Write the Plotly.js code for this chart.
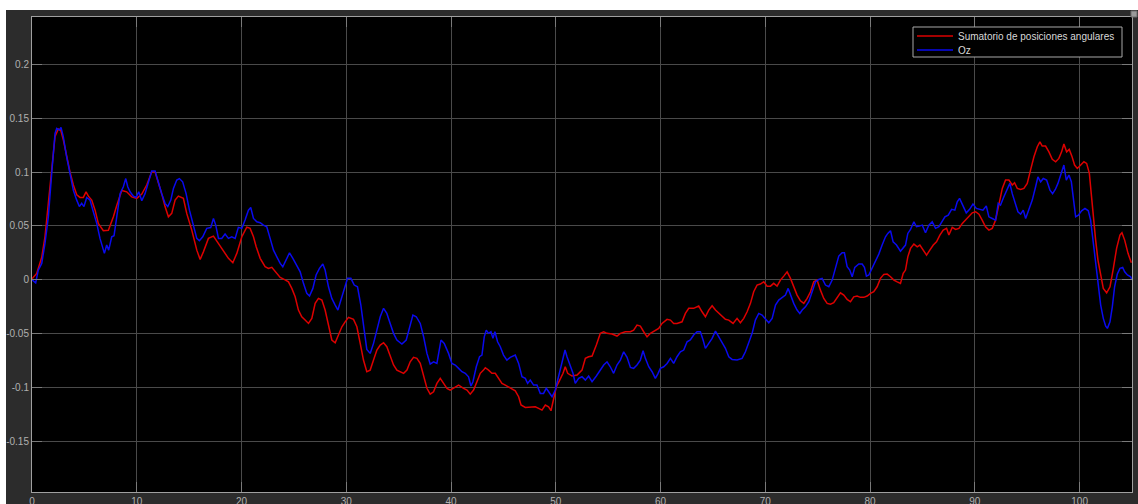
<!DOCTYPE html>
<html>
<head>
<meta charset="utf-8">
<script src="https://cdn.plot.ly/plotly-3.0.1.min.js"></script>
<style>
  html, body { margin: 0; padding: 0; background: #ffffff; width: 1138px; height: 504px; overflow: hidden; }
  #scope { position: absolute; left: 6px; top: 10px; width: 1132px; height: 494px; }
</style>
</head>
<body>
<div id="scope"></div>
<script>
// Series names shown in the legend
const seriesNames = ['Sumatorio de posiciones angulares', 'Oz'];

// Sum of angular positions (red)
const tSum = [0,0.45,0.93,1.24,1.56,1.88,2.2,2.51,2.74,2.99,3.31,3.63,3.95,4.27,4.58,4.9,5.16,5.38,5.7,6.02,6.33,6.81,7.29,7.77,8.09,8.57,9.04,9.52,10.0,10.48,10.95,11.43,11.75,12.06,12.38,12.7,13.02,13.34,13.66,13.97,14.45,14.77,15.25,15.73,16.05,16.36,16.84,17.32,17.8,18.27,18.75,19.17,19.55,20.03,20.5,20.82,21.14,21.4,21.78,22.25,22.57,22.89,23.21,23.69,24.16,24.48,24.8,25.12,25.43,25.75,26.07,26.39,26.71,27.03,27.34,27.67,27.98,28.3,28.62,28.94,29.26,29.58,29.89,30.21,30.69,31.01,31.33,31.64,31.96,32.28,32.6,32.92,33.24,33.56,33.87,34.19,34.51,34.83,35.15,35.47,35.79,36.1,36.42,36.74,37.06,37.38,37.7,38.01,38.33,38.65,38.97,39.29,39.61,39.92,40.4,40.72,41.2,41.52,41.83,42.15,42.47,42.79,43.1,43.27,43.58,43.9,44.22,44.54,44.86,45.18,45.49,45.81,46.13,46.45,46.68,47.09,47.56,48.04,48.36,48.68,49.0,49.31,49.54,49.79,50.05,50.37,50.69,50.9,51.13,51.55,52.03,52.5,52.82,53.13,53.46,53.87,54.25,54.57,54.89,55.37,55.84,56.16,56.64,57.12,57.43,57.75,58.07,58.39,58.71,59.03,59.5,59.82,60.14,60.62,60.94,61.25,61.57,62.05,62.37,62.69,63.16,63.64,63.96,64.28,64.6,64.92,65.24,65.55,65.87,66.19,66.51,66.92,67.3,67.62,67.94,68.26,68.58,68.89,69.21,69.53,69.85,70.17,70.49,70.8,71.12,71.44,71.76,72.08,72.4,72.71,73.03,73.35,73.67,73.99,74.31,74.62,74.94,75.26,75.58,75.9,76.22,76.53,76.85,77.17,77.49,77.81,78.13,78.44,78.76,79.08,79.4,79.72,80.04,80.35,80.67,80.99,81.31,81.63,81.95,82.27,82.59,82.9,83.16,83.38,83.6,83.86,84.18,84.5,84.75,85.07,85.39,85.7,86.03,86.34,86.66,86.98,87.3,87.52,87.84,88.16,88.48,88.8,89.11,89.43,89.75,90.07,90.39,90.7,91.02,91.34,91.66,91.98,92.3,92.62,92.93,93.25,93.57,93.79,94.05,94.37,94.68,95.0,95.32,95.64,95.96,96.21,96.43,96.75,97.07,97.39,97.71,98.02,98.28,98.5,98.76,99.01,99.26,99.52,99.78,100.1,100.41,100.67,100.93,101.11,101.3,101.53,101.75,102.01,102.26,102.58,102.9,103.22,103.53,103.85,104.04,104.3,104.62,104.94];
const ySum = [0.001,0.006,0.021,0.040,0.071,0.105,0.133,0.140,0.139,0.130,0.114,0.100,0.088,0.079,0.0765,0.0765,0.0817,0.0777,0.074,0.0647,0.0524,0.0456,0.046,0.0585,0.069,0.083,0.0817,0.077,0.0756,0.0796,0.088,0.100,0.100,0.091,0.080,0.068,0.0585,0.0617,0.074,0.0777,0.0756,0.0617,0.0462,0.0276,0.019,0.026,0.0385,0.0406,0.0338,0.026,0.020,0.0159,0.0246,0.040,0.049,0.0478,0.040,0.0307,0.020,0.0122,0.0107,0.0116,0.0075,0.0023,0.0,-0.0018,-0.0079,-0.0157,-0.028,-0.0342,-0.0373,-0.0404,-0.0357,-0.0218,-0.0172,-0.0187,-0.028,-0.0435,-0.0558,-0.0583,-0.0512,-0.0435,-0.0389,-0.0348,-0.0366,-0.0435,-0.0589,-0.0744,-0.0852,-0.0837,-0.0744,-0.0651,-0.0605,-0.0583,-0.062,-0.0713,-0.079,-0.0837,-0.0852,-0.0867,-0.0837,-0.076,-0.0719,-0.0728,-0.0775,-0.0899,-0.1006,-0.106,-0.1038,-0.096,-0.0914,-0.096,-0.1006,-0.1022,-0.0997,-0.0976,-0.1006,-0.1022,-0.106,-0.1022,-0.0945,-0.0867,-0.0837,-0.0815,-0.0837,-0.0867,-0.0867,-0.0914,-0.096,-0.0976,-0.0992,-0.1006,-0.1029,-0.1084,-0.1161,-0.1183,-0.1177,-0.1177,-0.1192,-0.1208,-0.1161,-0.1177,-0.1214,-0.1115,-0.0992,-0.093,-0.0867,-0.0806,-0.0867,-0.0892,-0.0883,-0.0837,-0.0728,-0.0713,-0.0707,-0.0605,-0.0496,-0.0481,-0.0496,-0.0503,-0.0521,-0.0496,-0.0481,-0.0481,-0.0466,-0.0419,-0.0429,-0.0481,-0.0528,-0.0496,-0.0472,-0.045,-0.0404,-0.0366,-0.0373,-0.0404,-0.0404,-0.0389,-0.0311,-0.0264,-0.0264,-0.0243,-0.0296,-0.0342,-0.028,-0.024,-0.028,-0.0311,-0.0342,-0.0366,-0.0373,-0.0404,-0.0357,-0.0398,-0.0357,-0.0296,-0.0218,-0.011,-0.0048,-0.0039,-0.0018,-0.0058,-0.0058,-0.0032,-0.0058,-0.0002,0.0035,0.0075,0.0014,-0.0064,-0.0141,-0.0194,-0.0218,-0.0172,-0.011,-0.0018,-0.0002,-0.0095,-0.0172,-0.0218,-0.0225,-0.0212,-0.0162,-0.012,-0.0141,-0.0181,-0.0203,-0.0157,-0.015,-0.0162,-0.0162,-0.015,-0.0125,-0.011,-0.0064,0.0014,0.0051,0.0054,0.0029,-0.0002,-0.0018,-0.0032,0.006,0.0091,0.0214,0.0292,0.0332,0.0307,0.0323,0.0276,0.023,0.0276,0.0323,0.0353,0.0416,0.0462,0.0478,0.0416,0.0487,0.0468,0.0478,0.0524,0.0555,0.0585,0.0622,0.0632,0.061,0.0555,0.0493,0.0462,0.0478,0.0555,0.071,0.0849,0.0926,0.0926,0.088,0.0901,0.0849,0.084,0.0849,0.0895,0.1021,0.1142,0.1235,0.1281,0.1241,0.1241,0.1188,0.1118,0.1096,0.1127,0.1188,0.126,0.1188,0.1211,0.1148,0.1065,0.1034,0.1065,0.1096,0.1081,0.0988,0.080,0.0585,0.0369,0.0184,0.0029,-0.0079,-0.012,-0.0064,0.0107,0.0292,0.0416,0.0437,0.0369,0.0246,0.0159];

// Oz (blue)
const tOz = [0,0.35,0.6,0.93,1.24,1.56,1.88,2.2,2.36,2.61,2.77,2.99,3.31,3.63,3.95,4.27,4.52,4.74,4.96,5.22,5.54,5.86,6.18,6.49,6.75,6.91,7.13,7.32,7.61,7.83,8.09,8.41,8.72,8.95,9.14,9.36,9.68,9.93,10.19,10.48,10.79,11.11,11.43,11.75,12.06,12.38,12.7,12.96,13.25,13.5,13.82,14.07,14.38,14.71,15.03,15.41,15.73,15.98,16.3,16.68,17.06,17.32,17.54,17.8,18.11,18.43,18.75,19.07,19.39,19.7,20.03,20.34,20.66,20.88,21.14,21.46,21.78,22.09,22.41,22.73,23.05,23.37,23.69,23.94,24.26,24.58,24.9,25.28,25.6,25.91,26.23,26.49,26.81,27.12,27.44,27.76,27.98,28.3,28.62,28.94,29.2,29.49,29.8,30.12,30.44,30.76,31.07,31.39,31.71,31.96,32.28,32.6,32.92,33.24,33.56,33.87,34.19,34.51,34.83,35.31,35.72,36.04,36.36,36.68,37.06,37.38,37.7,38.01,38.33,38.65,39.04,39.35,39.76,40.08,40.4,40.72,41.04,41.36,41.67,41.9,42.09,42.41,42.72,42.95,43.17,43.36,43.58,43.81,44.0,44.19,44.44,44.7,45.01,45.33,45.65,46.13,46.45,46.77,47.09,47.31,47.56,47.88,48.2,48.52,48.83,49.09,49.31,49.64,49.95,50.18,50.43,50.69,50.88,51.07,51.32,51.64,51.86,52.18,52.5,52.82,53.13,53.46,53.87,54.25,54.57,54.89,55.2,55.52,55.84,56.16,56.48,56.8,57.12,57.43,57.75,58.07,58.33,58.55,58.87,59.19,59.5,59.73,59.98,60.3,60.62,60.94,61.25,61.57,61.89,62.21,62.53,62.84,63.16,63.48,63.8,64.06,64.28,64.6,64.92,65.24,65.55,65.87,66.19,66.51,66.83,67.3,67.78,68.1,68.41,68.74,69.05,69.37,69.69,70.01,70.33,70.65,70.97,71.28,71.6,71.92,72.18,72.4,72.71,73.03,73.29,73.52,73.83,74.15,74.47,74.79,75.1,75.42,75.74,76.06,76.38,76.7,77.01,77.33,77.55,77.81,78.06,78.29,78.54,78.92,79.24,79.46,79.65,79.88,80.2,80.52,80.83,81.15,81.47,81.69,81.95,82.2,82.52,82.9,83.16,83.38,83.6,83.86,84.18,84.43,84.69,84.98,85.29,85.61,85.93,86.25,86.57,86.82,87.14,87.46,87.78,88.09,88.32,88.54,88.86,89.18,89.5,89.82,90.14,90.45,90.77,91.09,91.34,91.66,91.98,92.23,92.45,92.77,93.09,93.34,93.57,93.82,94.11,94.37,94.62,94.85,95.16,95.48,95.8,96.02,96.28,96.53,96.85,97.17,97.42,97.68,97.93,98.19,98.5,98.73,98.98,99.21,99.4,99.62,99.88,100.19,100.51,100.83,101.05,101.27,101.53,101.75,102.01,102.26,102.49,102.65,102.9,103.12,103.34,103.6,103.85,104.11,104.3,104.56,104.87,105];
const yOz = [0,-0.0027,0.009,0.0153,0.0338,0.0585,0.0988,0.136,0.1405,0.139,0.1415,0.1327,0.114,0.097,0.083,0.074,0.068,0.071,0.068,0.0765,0.074,0.063,0.0524,0.0385,0.0292,0.0246,0.0323,0.0276,0.040,0.041,0.0585,0.080,0.0864,0.094,0.0864,0.0817,0.0777,0.0765,0.0817,0.0734,0.080,0.091,0.101,0.101,0.0895,0.080,0.071,0.068,0.074,0.0849,0.0926,0.094,0.091,0.080,0.0647,0.049,0.0385,0.0363,0.040,0.0478,0.0485,0.057,0.0508,0.0385,0.0385,0.0425,0.0385,0.040,0.0385,0.0487,0.0478,0.0555,0.0647,0.0672,0.057,0.0539,0.053,0.0508,0.0493,0.0385,0.0276,0.0214,0.0153,0.0122,0.0184,0.0251,0.020,0.0137,0.0075,-0.0032,-0.0125,-0.015,-0.0079,0.0045,0.0107,0.0147,0.0091,-0.0064,-0.0172,-0.0234,-0.028,-0.0187,-0.0079,0.0014,0.0014,-0.0048,-0.0064,-0.0234,-0.0466,-0.0645,-0.0682,-0.0589,-0.0466,-0.0342,-0.0264,-0.0311,-0.0404,-0.0496,-0.0558,-0.0596,-0.0558,-0.0435,-0.0327,-0.0342,-0.0404,-0.0528,-0.0682,-0.0781,-0.076,-0.0775,-0.0558,-0.0589,-0.0682,-0.0775,-0.079,-0.0821,-0.0852,-0.0867,-0.0899,-0.0985,-0.0945,-0.0806,-0.0713,-0.0698,-0.0528,-0.0466,-0.0496,-0.0481,-0.0543,-0.0481,-0.0574,-0.062,-0.0698,-0.0744,-0.0719,-0.0698,-0.0775,-0.0899,-0.0914,-0.096,-0.093,-0.0976,-0.0976,-0.1053,-0.1053,-0.1006,-0.1038,-0.1084,-0.1022,-0.093,-0.0821,-0.0744,-0.0651,-0.0713,-0.0775,-0.0867,-0.096,-0.0914,-0.0899,-0.093,-0.0892,-0.0945,-0.0892,-0.0837,-0.079,-0.076,-0.0806,-0.0867,-0.079,-0.0744,-0.0667,-0.0719,-0.0812,-0.0821,-0.079,-0.0744,-0.0658,-0.0728,-0.0806,-0.0852,-0.0914,-0.0874,-0.0821,-0.0806,-0.0775,-0.0728,-0.0775,-0.0713,-0.0667,-0.0651,-0.0574,-0.0558,-0.0512,-0.0481,-0.0481,-0.0558,-0.0635,-0.0589,-0.0543,-0.0475,-0.0528,-0.0589,-0.0635,-0.0713,-0.0738,-0.0744,-0.0728,-0.0667,-0.0589,-0.0496,-0.0373,-0.0311,-0.0327,-0.0366,-0.0398,-0.0357,-0.0234,-0.0187,-0.0162,-0.0141,-0.0079,-0.0141,-0.0218,-0.028,-0.0311,-0.028,-0.025,-0.0203,-0.011,-0.0018,0.0005,0.0014,-0.0048,-0.0064,-0.0002,0.0107,0.0221,0.0251,0.0251,0.0122,0.0091,0.0029,0.0116,0.0147,0.0147,0.0116,0.0035,0.0045,0.0107,0.0184,0.0239,0.0323,0.040,0.0431,0.0456,0.0353,0.0323,0.0266,0.0301,0.0323,0.0431,0.0468,0.0539,0.0493,0.0499,0.0508,0.0437,0.0508,0.0539,0.0478,0.0493,0.0539,0.0585,0.0601,0.0654,0.0647,0.0724,0.0756,0.0694,0.0622,0.0654,0.0703,0.0663,0.0654,0.0647,0.0685,0.0585,0.057,0.0555,0.071,0.0694,0.0771,0.0849,0.0895,0.080,0.071,0.0632,0.061,0.0647,0.057,0.0663,0.074,0.0864,0.0956,0.091,0.0941,0.0926,0.0833,0.080,0.0839,0.0895,0.0972,0.1065,0.0926,0.0972,0.091,0.074,0.0585,0.0601,0.0641,0.0663,0.0641,0.0555,0.0369,0.0122,-0.0064,-0.0234,-0.0357,-0.0429,-0.045,-0.0389,-0.025,-0.0064,0.0054,0.0107,0.0116,0.0075,0.0045,0.0029,0.0];

// Axis ticks
const xTicks = [0,10,20,30,40,50,60,70,80,90,100];
const xTickText = ['0','10','20','30','40','50','60','70','80','90','100'];
const yTicks = [-0.15,-0.1,-0.05,0,0.05,0.1,0.15,0.2];
const yTickText = ['-0.15','-0.1','-0.05','0','0.05','0.1','0.15','0.2'];

const RED = '#dd0000';
const BLUE = '#0a0aee';
const FONT = '"Liberation Sans", Arial, Helvetica, sans-serif';

// Plot area in page pixels: x 32..1132, y 17..492 (div is offset 6,10)
const PL = 32, PR = 1132, PT = 17, PB = 492;
const px = v => (v - PL) / (PR - PL);
const py = v => (PB - v) / (PB - PT);

const traces = [
  { x: tSum, y: ySum, name: seriesNames[0], type: 'scatter', mode: 'lines',
    line: { color: RED, width: 1.5 }, hoverinfo: 'skip' },
  { x: tOz, y: yOz, name: seriesNames[1], type: 'scatter', mode: 'lines',
    line: { color: BLUE, width: 1.5 }, hoverinfo: 'skip' }
];

const axisCommon = {
  showgrid: true, gridcolor: '#4a4a4a', gridwidth: 1,
  zeroline: false,
  showline: true, linecolor: '#a0a0a0', linewidth: 1, mirror: 'ticks',
  ticks: 'inside', ticklen: 10, tickwidth: 1, tickcolor: '#7a7a7a',
  tickfont: { family: FONT, size: 10, color: '#b0b0b0' },
  fixedrange: true
};

// Legend drawn as a boxed key in the upper right
const legendShapes = [
  { type: 'rect', xref: 'paper', yref: 'paper', x0: px(913), x1: px(1122), y0: py(57), y1: py(27),
    line: { color: '#a8a8a8', width: 1 }, fillcolor: '#000000', layer: 'above' },
  { type: 'line', xref: 'paper', yref: 'paper', x0: px(917), x1: px(953), y0: py(36), y1: py(36),
    line: { color: RED, width: 1.5 }, layer: 'above' },
  { type: 'line', xref: 'paper', yref: 'paper', x0: px(917), x1: px(953), y0: py(50), y1: py(50),
    line: { color: BLUE, width: 1.5 }, layer: 'above' },
  // small window control glyph at the top-right corner
  { type: 'rect', xref: 'paper', yref: 'paper', x0: px(1131), x1: px(1137), y0: py(17), y1: py(11),
    line: { color: '#6a6a6a', width: 1 }, fillcolor: '#9a9a9a', layer: 'above' }
];

const legendText = seriesNames.map((name, i) => ({
  xref: 'paper', yref: 'paper', x: px(956), y: py(i === 0 ? 36 : 50),
  xanchor: 'left', yanchor: 'middle', showarrow: false, text: name,
  font: { family: FONT, size: 10, color: '#d8d8d8' }
}));

const layout = {
  width: 1132, height: 494,
  margin: { l: 26, r: 6, t: 7, b: 12, pad: 0 },
  paper_bgcolor: '#2c2c2c',
  plot_bgcolor: '#000000',
  showlegend: false,
  xaxis: Object.assign({}, axisCommon, {
    range: [0, 105], tickmode: 'array', tickvals: xTicks, ticktext: xTickText
  }),
  yaxis: Object.assign({}, axisCommon, {
    range: [-0.1968, 0.2439], tickmode: 'array', tickvals: yTicks, ticktext: yTickText
  }),
  shapes: legendShapes,
  annotations: legendText
};

Plotly.newPlot('scope', traces, layout, { displayModeBar: false, staticPlot: true });
</script>
</body>
</html>
